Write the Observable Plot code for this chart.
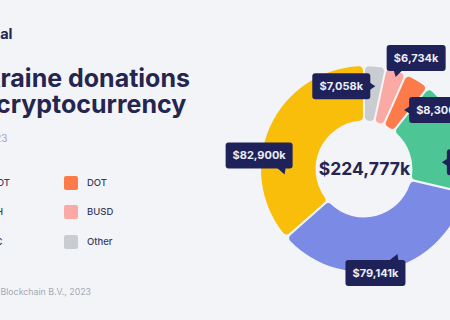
<!DOCTYPE html>
<html><head><meta charset="utf-8">
<script src="https://cdn.jsdelivr.net/npm/d3@7"></script>
<script src="https://cdn.jsdelivr.net/npm/@observablehq/plot@0.6"></script>
<style>
html,body{margin:0;padding:0;background:#f3f4f8;}
#wrap{position:relative;width:450px;height:320px;overflow:hidden;font-family:Inter,"Noto Sans",sans-serif;color:#25264f;background:#f3f4f8;}
.abs{position:absolute;white-space:nowrap;}
#chart{position:absolute;left:0;top:0;}
.sw{position:absolute;width:14px;height:14px;border-radius:2px;}
.lg{position:absolute;font-size:9.5px;font-weight:500;color:#3b3c5c;white-space:nowrap;line-height:14px;}
</style></head><body><div id="wrap"><div id="chart"></div></div>
<script>
// ---- data ----
const categories = ["USDT", "ETH", "BTC", "DOT", "BUSD", "Other"];
const values = [82900, 79141, 40644, 8300, 6734, 7058]; // thousands of USD
const colors = ["#f9be0a", "#7b8ae5", "#4dc594", "#fd7b4b", "#fba9a5", "#c9cdd1"];
const pieOrder = ["Other", "BUSD", "DOT", "BTC", "ETH", "USDT"]; // clockwise from 12 o'clock
const brand = "Coinjournal";
const titleLines = ["Ukraine donations", "in cryptocurrency"];
const subtitle = "February 2022 – February 2023";
const footer = "Copyright Blockchain B.V., 2023";

// ---- helpers ----
const total = d3.sum(values);
const fmt = v => "$" + d3.format(",")(v) + "k";
const rows = categories.map((c, i) => ({category: c, value: values[i], color: colors[i]}));
const byCat = new Map(rows.map(d => [d.category, d]));
const pie = d3.pie().sort(null).value(d => d.value).padAngle(0.02)(pieOrder.map(c => byCat.get(c)));
const INNER = 0.47, MID = 0.755;
const canvas = document.createElement("canvas").getContext("2d");
const measure = (t, font) => { canvas.font = font; return canvas.measureText(t).width; };

// callout layout (pixel offsets of box centre from slice anchor)
const callout = {
  Other: {dx: -31, dy: -5.5, side: "right"},
  BUSD: {dx: 28, dy: -37, side: "bottom-left"},
  DOT: {dx: 35, dy: 7.5, side: "left"},
  BTC: {dx: 43, dy: 19, side: "left"},
  ETH: {dx: -7.5, dy: 28.5, side: "top-right"},
  USDT: {dx: -34, dy: 18.5, side: "bottom-right"}
};

function donut(index, scales) {
  const cx = scales.x(0), cy = scales.y(0), R = scales.x(1) - cx;
  const arc = d3.arc().innerRadius(R * INNER).outerRadius(R).cornerRadius(4).padRadius(R);
  const g = d3.create("svg:g").attr("transform", `translate(${cx},${cy})`);
  g.selectAll("path").data(pie).join("path").attr("d", arc).attr("fill", d => d.data.color);
  return g.node();
}

function callouts(index, scales) {
  const g = d3.create("svg:g");
  const font = "700 11px Inter";
  for (const d of pie) {
    const c = callout[d.data.category];
    const a = (d.startAngle + d.endAngle) / 2;
    const ax = scales.x(MID * Math.sin(a)), ay = scales.y(MID * Math.cos(a));
    const bx = ax + c.dx, by = ay + c.dy;
    const label = fmt(d.data.value);
    const w = Math.round(measure(label, font) + 14), h = 26;
    const b = g.append("g").attr("transform", `translate(${bx},${by})`);
    b.append("rect").attr("x", -w / 2).attr("y", -h / 2).attr("width", w).attr("height", h).attr("rx", 3).attr("fill", "#1f2258");
    let p;
    if (c.side === "right") p = [[w/2 - 1, -4], [w/2 + 5, 0], [w/2 - 1, 4]];
    else if (c.side === "left") p = [[-w/2 + 1, -4], [-w/2 - 5, 0], [-w/2 + 1, 4]];
    else if (c.side === "bottom-left") p = [[-w/2 + 7, h/2 - 1], [-w/2 + 9, h/2 + 6], [-w/2 + 16, h/2 - 1]];
    else if (c.side === "bottom-right") p = [[w/2 - 16, h/2 - 1], [w/2 - 8, h/2 + 6], [w/2 - 7, h/2 - 1]];
    else p = [[w/2 - 17, -h/2 + 1], [w/2 - 8, -h/2 - 6], [w/2 - 7, -h/2 + 1]];
    b.append("path").attr("d", "M" + p.join("L") + "Z").attr("fill", "#1f2258");
    b.append("text").attr("text-anchor", "middle").attr("dy", "0.36em")
      .attr("fill", "#eceefa").attr("font-family", "Inter, sans-serif").attr("font-weight", 700).attr("font-size", 11)
      .text(label);
  }
  return g.node();
}

const chart = Plot.plot({
  width: 450, height: 320, margin: 0,
  x: {domain: [-3.534, 0.835], axis: null},
  y: {domain: [-1.466, 1.641], axis: null},
  style: {background: "transparent"},
  marks: [
    donut,
    Plot.text([total], {x: 0, y: 0, text: d => fmt(d), fontSize: 17.5, fontWeight: 700, fill: "#25264f", fontFamily: "Inter, sans-serif"}),
    callouts
  ]
});
document.getElementById("chart").append(chart);

// ---- left panel (HTML) ----
const wrap = document.getElementById("wrap");
function addText(text, css, endX, font) {
  const el = document.createElement("div");
  el.className = "abs"; el.textContent = text;
  Object.assign(el.style, css);
  if (endX != null) el.style.left = (endX - measure(text, font)) + "px";
  wrap.append(el); return el;
}
addText(brand, {top: "25px", fontSize: "14.5px", fontWeight: 700, lineHeight: "18px", color: "#25264f"}, 12.5, "700 14.5px Inter");
const tFont = "700 25px Inter";
const tLeft = -measure("Uk", tFont) + 0.5;
titleLines.forEach((t, i) => addText(t, {top: (65 + i * 26) + "px", left: tLeft + "px", fontSize: "25px", fontWeight: 700, lineHeight: "26px", color: "#25264f"}));
addText(subtitle, {top: "132px", fontSize: "10px", lineHeight: "12px", color: "#a3a5b5"}, 7.5, "400 10px Inter");
addText(footer, {top: "286px", fontSize: "8.8px", lineHeight: "12px", color: "#a6a8b6"}, 91, "400 8.8px Inter");

// legend: column-major, in pie-reverse order
const legendOrder = pieOrder.slice().reverse();
legendOrder.forEach((c, i) => {
  const col = Math.floor(i / 3), row = i % 3;
  const x = 64 - (1 - col) * 103, yc = [183, 211.5, 241.5][row];
  const sw = document.createElement("div"); sw.className = "sw";
  sw.style.left = x + "px"; sw.style.top = (yc - 7) + "px"; sw.style.background = byCat.get(c).color;
  const lb = document.createElement("div"); lb.className = "lg"; lb.textContent = c;
  lb.style.left = (x + 23) + "px"; lb.style.top = (yc - 7) + "px";
  wrap.append(sw, lb);
});
</script></body></html>
